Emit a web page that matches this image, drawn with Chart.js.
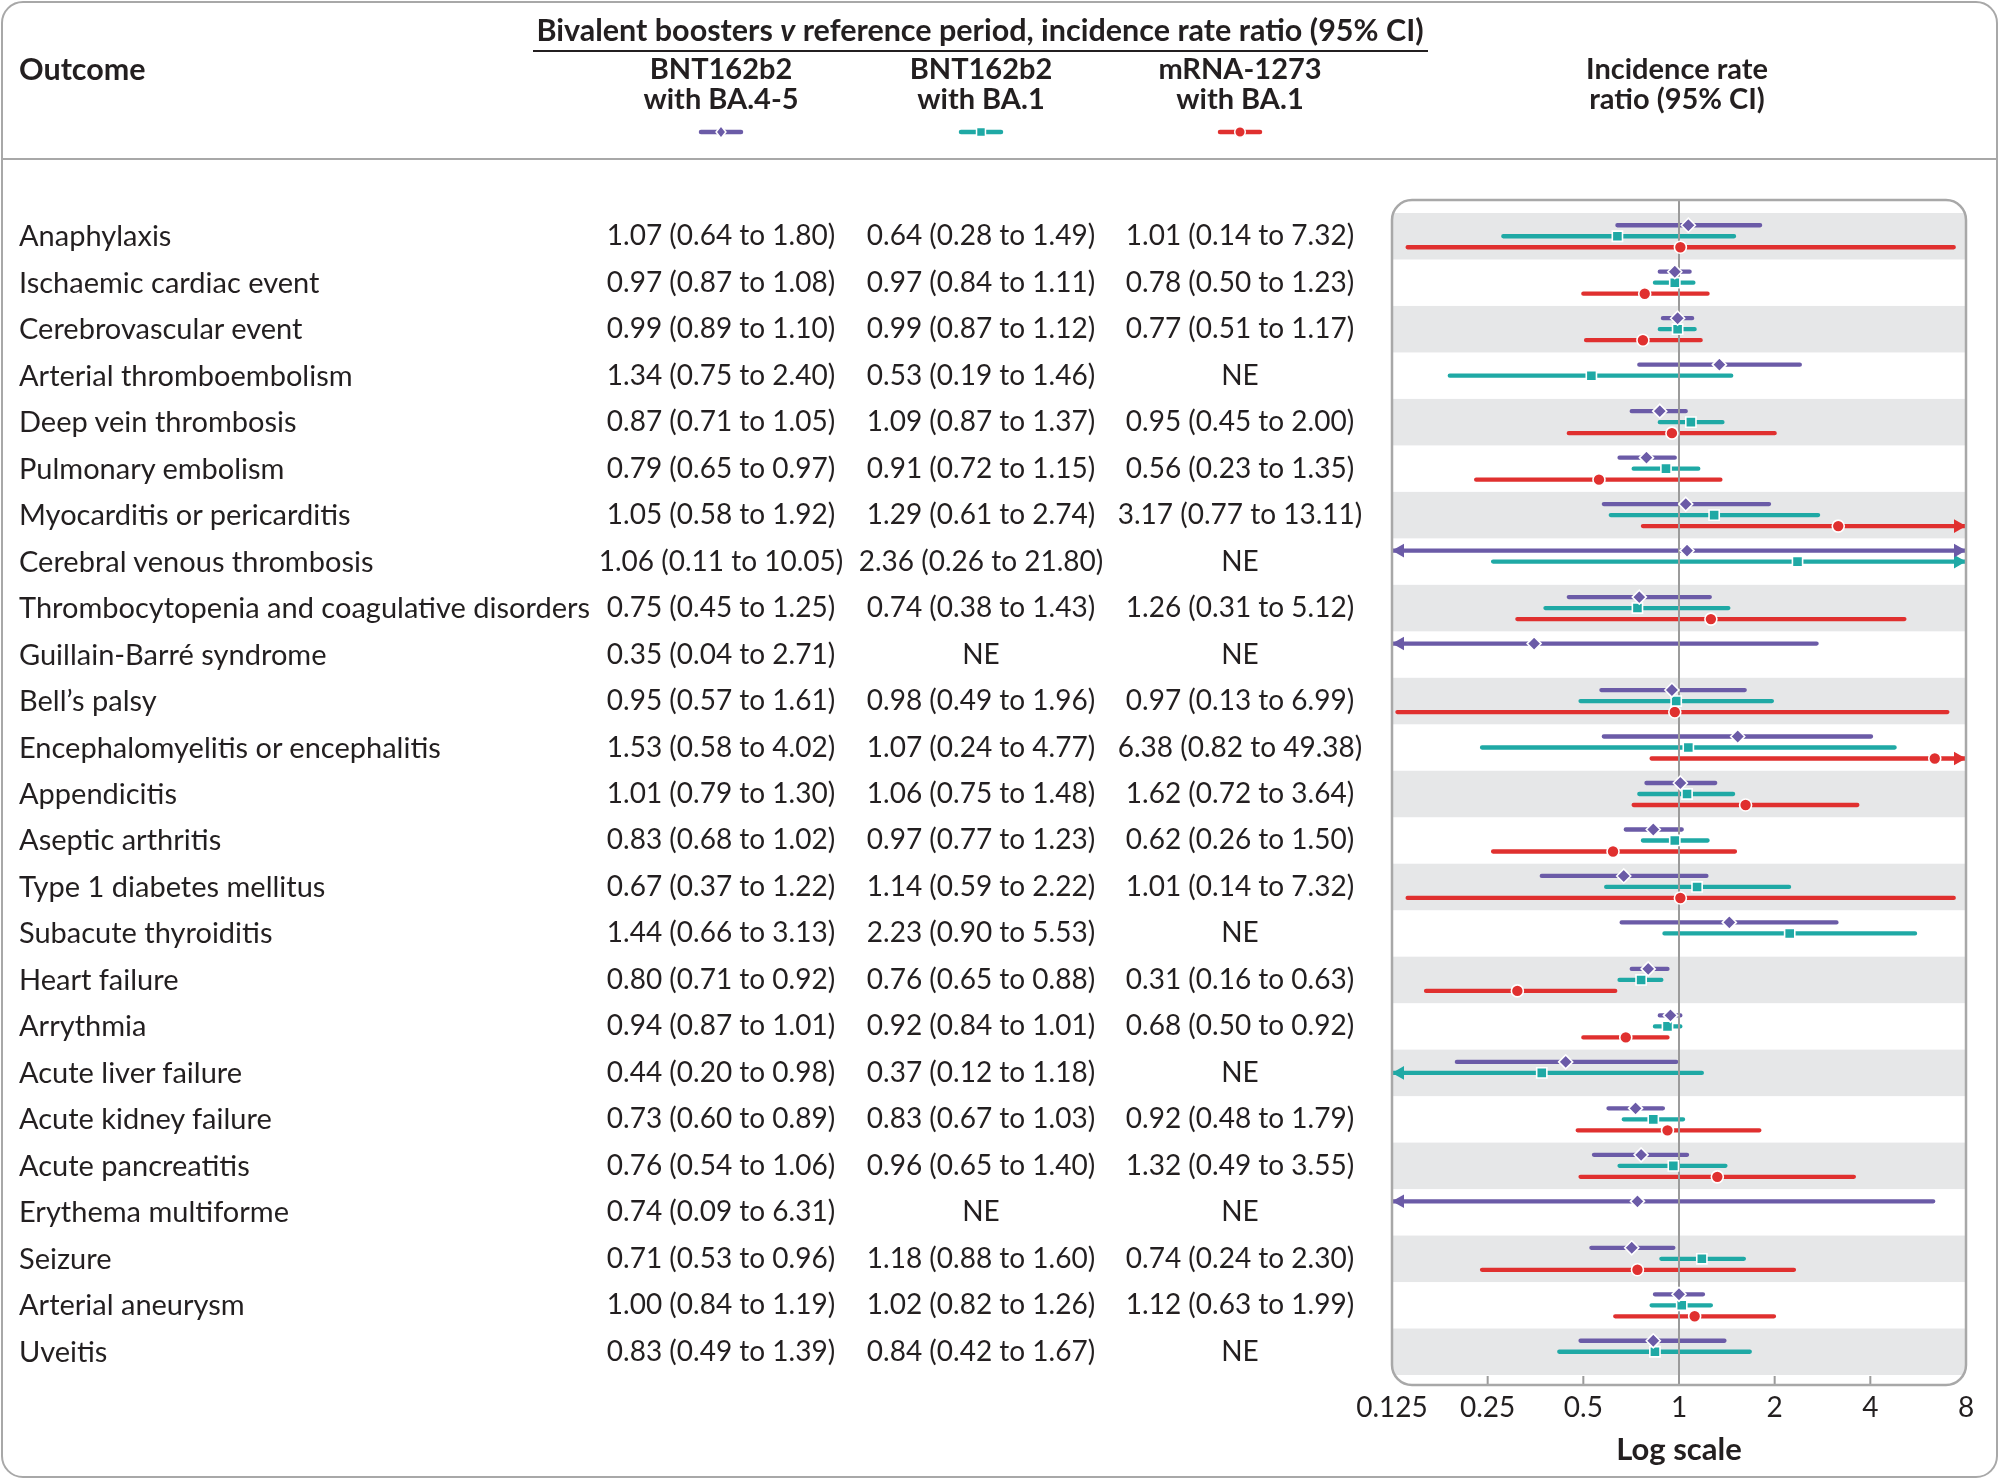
<!DOCTYPE html>
<html>
<head>
<meta charset="utf-8">
<script src="https://cdn.jsdelivr.net/npm/chart.js@4.4.1/dist/chart.umd.min.js"></script>
<style>
  html, body { margin: 0; padding: 0; background: #fff; }
  #wrap { position: relative; width: 2000px; height: 1480px; overflow: hidden;
          font-family: Lato, 'Noto Sans', sans-serif; color: #231f20; }
  #frame { position: absolute; left: 1px; top: 1px; width: 1997px; height: 1477px;
           box-sizing: border-box; border: 2.5px solid #a8a8a8; border-radius: 22px; }
  #sep { position: absolute; left: 2px; width: 1996px; top: 158px; border-top: 2.5px solid #a8a8a8; }
  #uline { position: absolute; left: 533px; width: 895px; top: 50px; border-top: 2.5px solid #231f20; }
  canvas { position: absolute; left: 0; top: 0; }
  .t { position: absolute; white-space: nowrap; line-height: 1.2; }
  .hd { font-weight: 700; font-size: 29px; }
  .hd2 { font-weight: 700; font-size: 30.5px; }
  .lbl { font-size: 29px; }
  .val { font-size: 28px; }
</style>
</head>
<body>
<div id="wrap">
  <div id="frame"></div>
  <div id="sep"></div>
  <div id="uline"></div>
  <canvas id="c" width="2000" height="1480"></canvas>
</div>
<script>
// ---------------- data ----------------
const outcomes = [
  'Anaphylaxis', 'Ischaemic cardiac event', 'Cerebrovascular event', 'Arterial thromboembolism',
  'Deep vein thrombosis', 'Pulmonary embolism', 'Myocarditis or pericarditis', 'Cerebral venous thrombosis',
  'Thrombocytopenia and coagulative disorders', 'Guillain-Barré syndrome', 'Bell’s palsy',
  'Encephalomyelitis or encephalitis', 'Appendicitis', 'Aseptic arthritis', 'Type 1 diabetes mellitus',
  'Subacute thyroiditis', 'Heart failure', 'Arrythmia', 'Acute liver failure', 'Acute kidney failure',
  'Acute pancreatitis', 'Erythema multiforme', 'Seizure', 'Arterial aneurysm', 'Uveitis'
];
// BNT162b2 with BA.4-5
const bnt45Est = [1.07, 0.97, 0.99, 1.34, 0.87, 0.79, 1.05, 1.06, 0.75, 0.35, 0.95, 1.53, 1.01, 0.83, 0.67, 1.44, 0.80, 0.94, 0.44, 0.73, 0.76, 0.74, 0.71, 1.00, 0.83];
const bnt45Lo  = [0.64, 0.87, 0.89, 0.75, 0.71, 0.65, 0.58, 0.11, 0.45, 0.04, 0.57, 0.58, 0.79, 0.68, 0.37, 0.66, 0.71, 0.87, 0.20, 0.60, 0.54, 0.09, 0.53, 0.84, 0.49];
const bnt45Hi  = [1.80, 1.08, 1.10, 2.40, 1.05, 0.97, 1.92, 10.05, 1.25, 2.71, 1.61, 4.02, 1.30, 1.02, 1.22, 3.13, 0.92, 1.01, 0.98, 0.89, 1.06, 6.31, 0.96, 1.19, 1.39];
// BNT162b2 with BA.1
const bnt1Est = [0.64, 0.97, 0.99, 0.53, 1.09, 0.91, 1.29, 2.36, 0.74, null, 0.98, 1.07, 1.06, 0.97, 1.14, 2.23, 0.76, 0.92, 0.37, 0.83, 0.96, null, 1.18, 1.02, 0.84];
const bnt1Lo  = [0.28, 0.84, 0.87, 0.19, 0.87, 0.72, 0.61, 0.26, 0.38, null, 0.49, 0.24, 0.75, 0.77, 0.59, 0.90, 0.65, 0.84, 0.12, 0.67, 0.65, null, 0.88, 0.82, 0.42];
const bnt1Hi  = [1.49, 1.11, 1.12, 1.46, 1.37, 1.15, 2.74, 21.80, 1.43, null, 1.96, 4.77, 1.48, 1.23, 2.22, 5.53, 0.88, 1.01, 1.18, 1.03, 1.40, null, 1.60, 1.26, 1.67];
// mRNA-1273 with BA.1
const mrnaEst = [1.01, 0.78, 0.77, null, 0.95, 0.56, 3.17, null, 1.26, null, 0.97, 6.38, 1.62, 0.62, 1.01, null, 0.31, 0.68, null, 0.92, 1.32, null, 0.74, 1.12, null];
const mrnaLo  = [0.14, 0.50, 0.51, null, 0.45, 0.23, 0.77, null, 0.31, null, 0.13, 0.82, 0.72, 0.26, 0.14, null, 0.16, 0.50, null, 0.48, 0.49, null, 0.24, 0.63, null];
const mrnaHi  = [7.32, 1.23, 1.17, null, 2.00, 1.35, 13.11, null, 5.12, null, 6.99, 49.38, 3.64, 1.50, 7.32, null, 0.63, 0.92, null, 1.79, 3.55, null, 2.30, 1.99, null];

const xTickValues = [0.125, 0.25, 0.5, 1, 2, 4, 8];
const seriesHeaders = [['BNT162b2', 'with BA.4-5'], ['BNT162b2', 'with BA.1'], ['mRNA-1273', 'with BA.1']];

// ---------------- layout & style ----------------
const W = 2000, H = 1480;
const AREA_LEFT = 1392, AREA_RIGHT = 1966, AREA_TOP = 213, AREA_BOTTOM = 1375;
const BOX_TOP = 200, BOX_BOTTOM = 1385, BOX_R = 20;
const TICK_FONT = 28, TICK_PAD = 16, TITLE_FONT = 31, TITLE_PAD_TOP = 7, TITLE_PAD_BOTTOM = 4, LH = 1.2;
const AXIS_H = TICK_PAD + TICK_FONT * LH + TITLE_PAD_TOP + TITLE_FONT * LH + TITLE_PAD_BOTTOM;
const ROW_PX = (AREA_BOTTOM - AREA_TOP) / outcomes.length;
const SUB_PX = 11;
const ARROW_L = 12, ARROW_HW = 6.8;
const BAND = '#e6e7e8', REF = '#9b9b9b', BOXC = '#a8a8a8', TXT = '#231f20';

const SERIES = [
  { est: bnt45Est, lo: bnt45Lo, hi: bnt45Hi, color: '#6b5ba7', style: 'rectRot', radius: 7,   off: -SUB_PX, col: 721 },
  { est: bnt1Est,  lo: bnt1Lo,  hi: bnt1Hi,  color: '#1fa9a5', style: 'rect',    radius: 7.2, off: 0,       col: 981 },
  { est: mrnaEst,  lo: mrnaLo,  hi: mrnaHi,  color: '#e0302f', style: 'circle',  radius: 6,   off: SUB_PX,  col: 1240 }
];

Chart.defaults.font.family = "Lato, 'Noto Sans', sans-serif";
Chart.defaults.color = TXT;

// ---------------- datasets ----------------
const datasets = [];
SERIES.forEach((s, i) => {
  const pts = [];
  s.est.forEach((v, r) => { if (v !== null) pts.push({ x: v, y: r + s.off / ROW_PX }); });
  datasets.push({
    type: 'line', label: 'pt' + i, data: pts, showLine: false, order: 0,
    pointStyle: s.style, pointRadius: s.radius, pointBackgroundColor: s.color,
    pointBorderColor: '#ffffff', pointBorderWidth: 1.6, pointHoverRadius: s.radius
  });
});
SERIES.forEach((s, i) => {
  const seg = [];
  s.est.forEach((v, r) => {
    if (v === null) return;
    const yy = r + s.off / ROW_PX;
    seg.push({ x: s.lo[r], y: yy }, { x: s.hi[r], y: yy }, { x: 1, y: null });
  });
  datasets.push({
    type: 'line', label: 'ci' + i, data: seg, order: 1, spanGaps: false,
    borderColor: s.color, borderWidth: 4.3, borderCapStyle: 'round', pointRadius: 0,
    tension: 0, clip: 0
  });
});

function markerPath(ctx, style, x, y, r) {
  ctx.beginPath();
  if (style === 'rectRot') { ctx.moveTo(x, y - r); ctx.lineTo(x + r * 0.78, y); ctx.lineTo(x, y + r); ctx.lineTo(x - r * 0.78, y); ctx.closePath(); }
  else if (style === 'rect') { const h = r * Math.SQRT1_2; ctx.rect(x - h, y - h, 2 * h, 2 * h); }
  else { ctx.arc(x, y, r, 0, Math.PI * 2); }
}

const forestPlugin = {
  id: 'forest',
  beforeDatasetsDraw(chart) {
    const { ctx, chartArea: a, scales: { x, y } } = chart;
    ctx.save();
    ctx.beginPath();
    ctx.roundRect(a.left, BOX_TOP, a.right - a.left, BOX_BOTTOM - BOX_TOP, BOX_R);
    ctx.clip();
    ctx.fillStyle = BAND;
    outcomes.forEach((_, r) => {
      if (r % 2) return;
      const t = y.getPixelForValue(r - 0.5), b = y.getPixelForValue(r + 0.5);
      ctx.fillRect(a.left, t, a.right - a.left, b - t);
    });
    ctx.strokeStyle = REF; ctx.lineWidth = 2;
    xTickValues.forEach(v => {
      if (v === 1 || v === x.min || v === x.max) return;
      const px = x.getPixelForValue(v);
      ctx.beginPath(); ctx.moveTo(px, BOX_BOTTOM - 9); ctx.lineTo(px, BOX_BOTTOM); ctx.stroke();
    });
    ctx.restore();
  },
  afterDatasetDraw(chart, args) {
    const ds = chart.data.datasets[args.index];
    if (!ds.label.startsWith('ci')) return;
    const si = +ds.label.slice(2);
    const s = SERIES[si];
    const { ctx, chartArea: a, scales: { x, y } } = chart;
    ctx.save();
    // arrowheads on intervals running past the axis limits
    ctx.fillStyle = s.color;
    s.est.forEach((v, r) => {
      if (v === null) return;
      const py = y.getPixelForValue(r + s.off / ROW_PX);
      if (s.lo[r] < x.min) {
        ctx.beginPath(); ctx.moveTo(a.left, py); ctx.lineTo(a.left + ARROW_L, py - ARROW_HW); ctx.lineTo(a.left + ARROW_L, py + ARROW_HW); ctx.closePath(); ctx.fill();
      }
      if (s.hi[r] > x.max) {
        ctx.beginPath(); ctx.moveTo(a.right, py); ctx.lineTo(a.right - ARROW_L, py - ARROW_HW); ctx.lineTo(a.right - ARROW_L, py + ARROW_HW); ctx.closePath(); ctx.fill();
      }
    });
    // reference line at 1: over the interval lines, under the markers
    if (si === 0) {
      const x1 = x.getPixelForValue(1);
      ctx.strokeStyle = REF; ctx.lineWidth = 2;
      ctx.beginPath(); ctx.moveTo(x1, BOX_TOP); ctx.lineTo(x1, BOX_BOTTOM); ctx.stroke();
    }
    ctx.restore();
  },
  afterDraw(chart) {
    const { ctx, chartArea: a } = chart;
    ctx.save();
    ctx.strokeStyle = BOXC; ctx.lineWidth = 2.5;
    ctx.beginPath();
    ctx.roundRect(a.left, BOX_TOP, a.right - a.left, BOX_BOTTOM - BOX_TOP, BOX_R);
    ctx.stroke();
    // legend glyphs in header
    SERIES.forEach(s => {
      const gy = 132;
      ctx.strokeStyle = s.color; ctx.lineWidth = 4.5; ctx.lineCap = 'round';
      ctx.beginPath(); ctx.moveTo(s.col - 20, gy); ctx.lineTo(s.col + 20, gy); ctx.stroke();
      ctx.fillStyle = s.color; ctx.strokeStyle = '#fff'; ctx.lineWidth = 1.5;
      markerPath(ctx, s.style, s.col, gy, s.style === 'circle' ? 5.3 : 6.3);
      ctx.fill(); ctx.stroke();
    });
    ctx.restore();
  }
};

const chart = new Chart(document.getElementById('c'), {
  type: 'line',
  data: { datasets },
  options: {
    responsive: false, animation: false, devicePixelRatio: 1,
    events: [],
    layout: { padding: { left: AREA_LEFT, right: W - AREA_RIGHT, top: AREA_TOP, bottom: H - AREA_BOTTOM - AXIS_H } },
    plugins: { legend: { display: false }, tooltip: { enabled: false } },
    scales: {
      x: {
        type: 'logarithmic', min: xTickValues[0], max: xTickValues[xTickValues.length - 1],
        afterBuildTicks: (sc) => { sc.ticks = xTickValues.map(v => ({ value: v })); },
        afterFit: (sc) => { sc.height = AXIS_H; },
        ticks: { callback: (v) => String(v), autoSkip: false, maxRotation: 0, padding: TICK_PAD,
                 font: { size: TICK_FONT, lineHeight: LH }, color: TXT },
        grid: { display: false, drawTicks: false },
        border: { display: false },
        title: { display: true, text: 'Log scale', color: TXT,
                 font: { size: TITLE_FONT, weight: 'bold', lineHeight: LH },
                 padding: { top: TITLE_PAD_TOP, bottom: TITLE_PAD_BOTTOM } }
      },
      y: { type: 'linear', min: -0.5, max: outcomes.length - 0.5, reverse: true, display: false }
    }
  },
  plugins: [forestPlugin]
});

// ---------------- table text (real DOM text aligned to the chart's y scale) ----------------
const wrap = document.getElementById('wrap');
function addText(html, x, y, cls, align) {
  const d = document.createElement('div');
  d.className = 't ' + cls;
  d.innerHTML = html;
  d.style.left = x + 'px';
  d.style.top = y + 'px';
  d.style.transform = align === 'center' ? 'translate(-50%, -50%)' : 'translate(0, -50%)';
  wrap.appendChild(d);
}
const f2 = v => v.toFixed(2);
const ys = chart.scales.y;
outcomes.forEach((name, r) => {
  const py = ys.getPixelForValue(r) - 1;
  addText(name, 19, py, 'lbl', 'left');
  SERIES.forEach(s => {
    const txt = s.est[r] === null ? 'NE' : `${f2(s.est[r])} (${f2(s.lo[r])} to ${f2(s.hi[r])})`;
    addText(txt, s.col, py, 'val', 'center');
  });
});
addText('Bivalent boosters <i>v</i> reference period, incidence rate ratio (95% CI)', 980, 29, 'hd2', 'center');
addText('Outcome', 19, 68, 'hd2', 'left');
SERIES.forEach((s, i) => {
  addText(seriesHeaders[i][0], s.col, 68, 'hd', 'center');
  addText(seriesHeaders[i][1], s.col, 98, 'hd', 'center');
});
addText('Incidence rate', 1677, 68, 'hd', 'center');
addText('ratio (95% CI)', 1677, 98, 'hd', 'center');
</script>
</body>
</html>
